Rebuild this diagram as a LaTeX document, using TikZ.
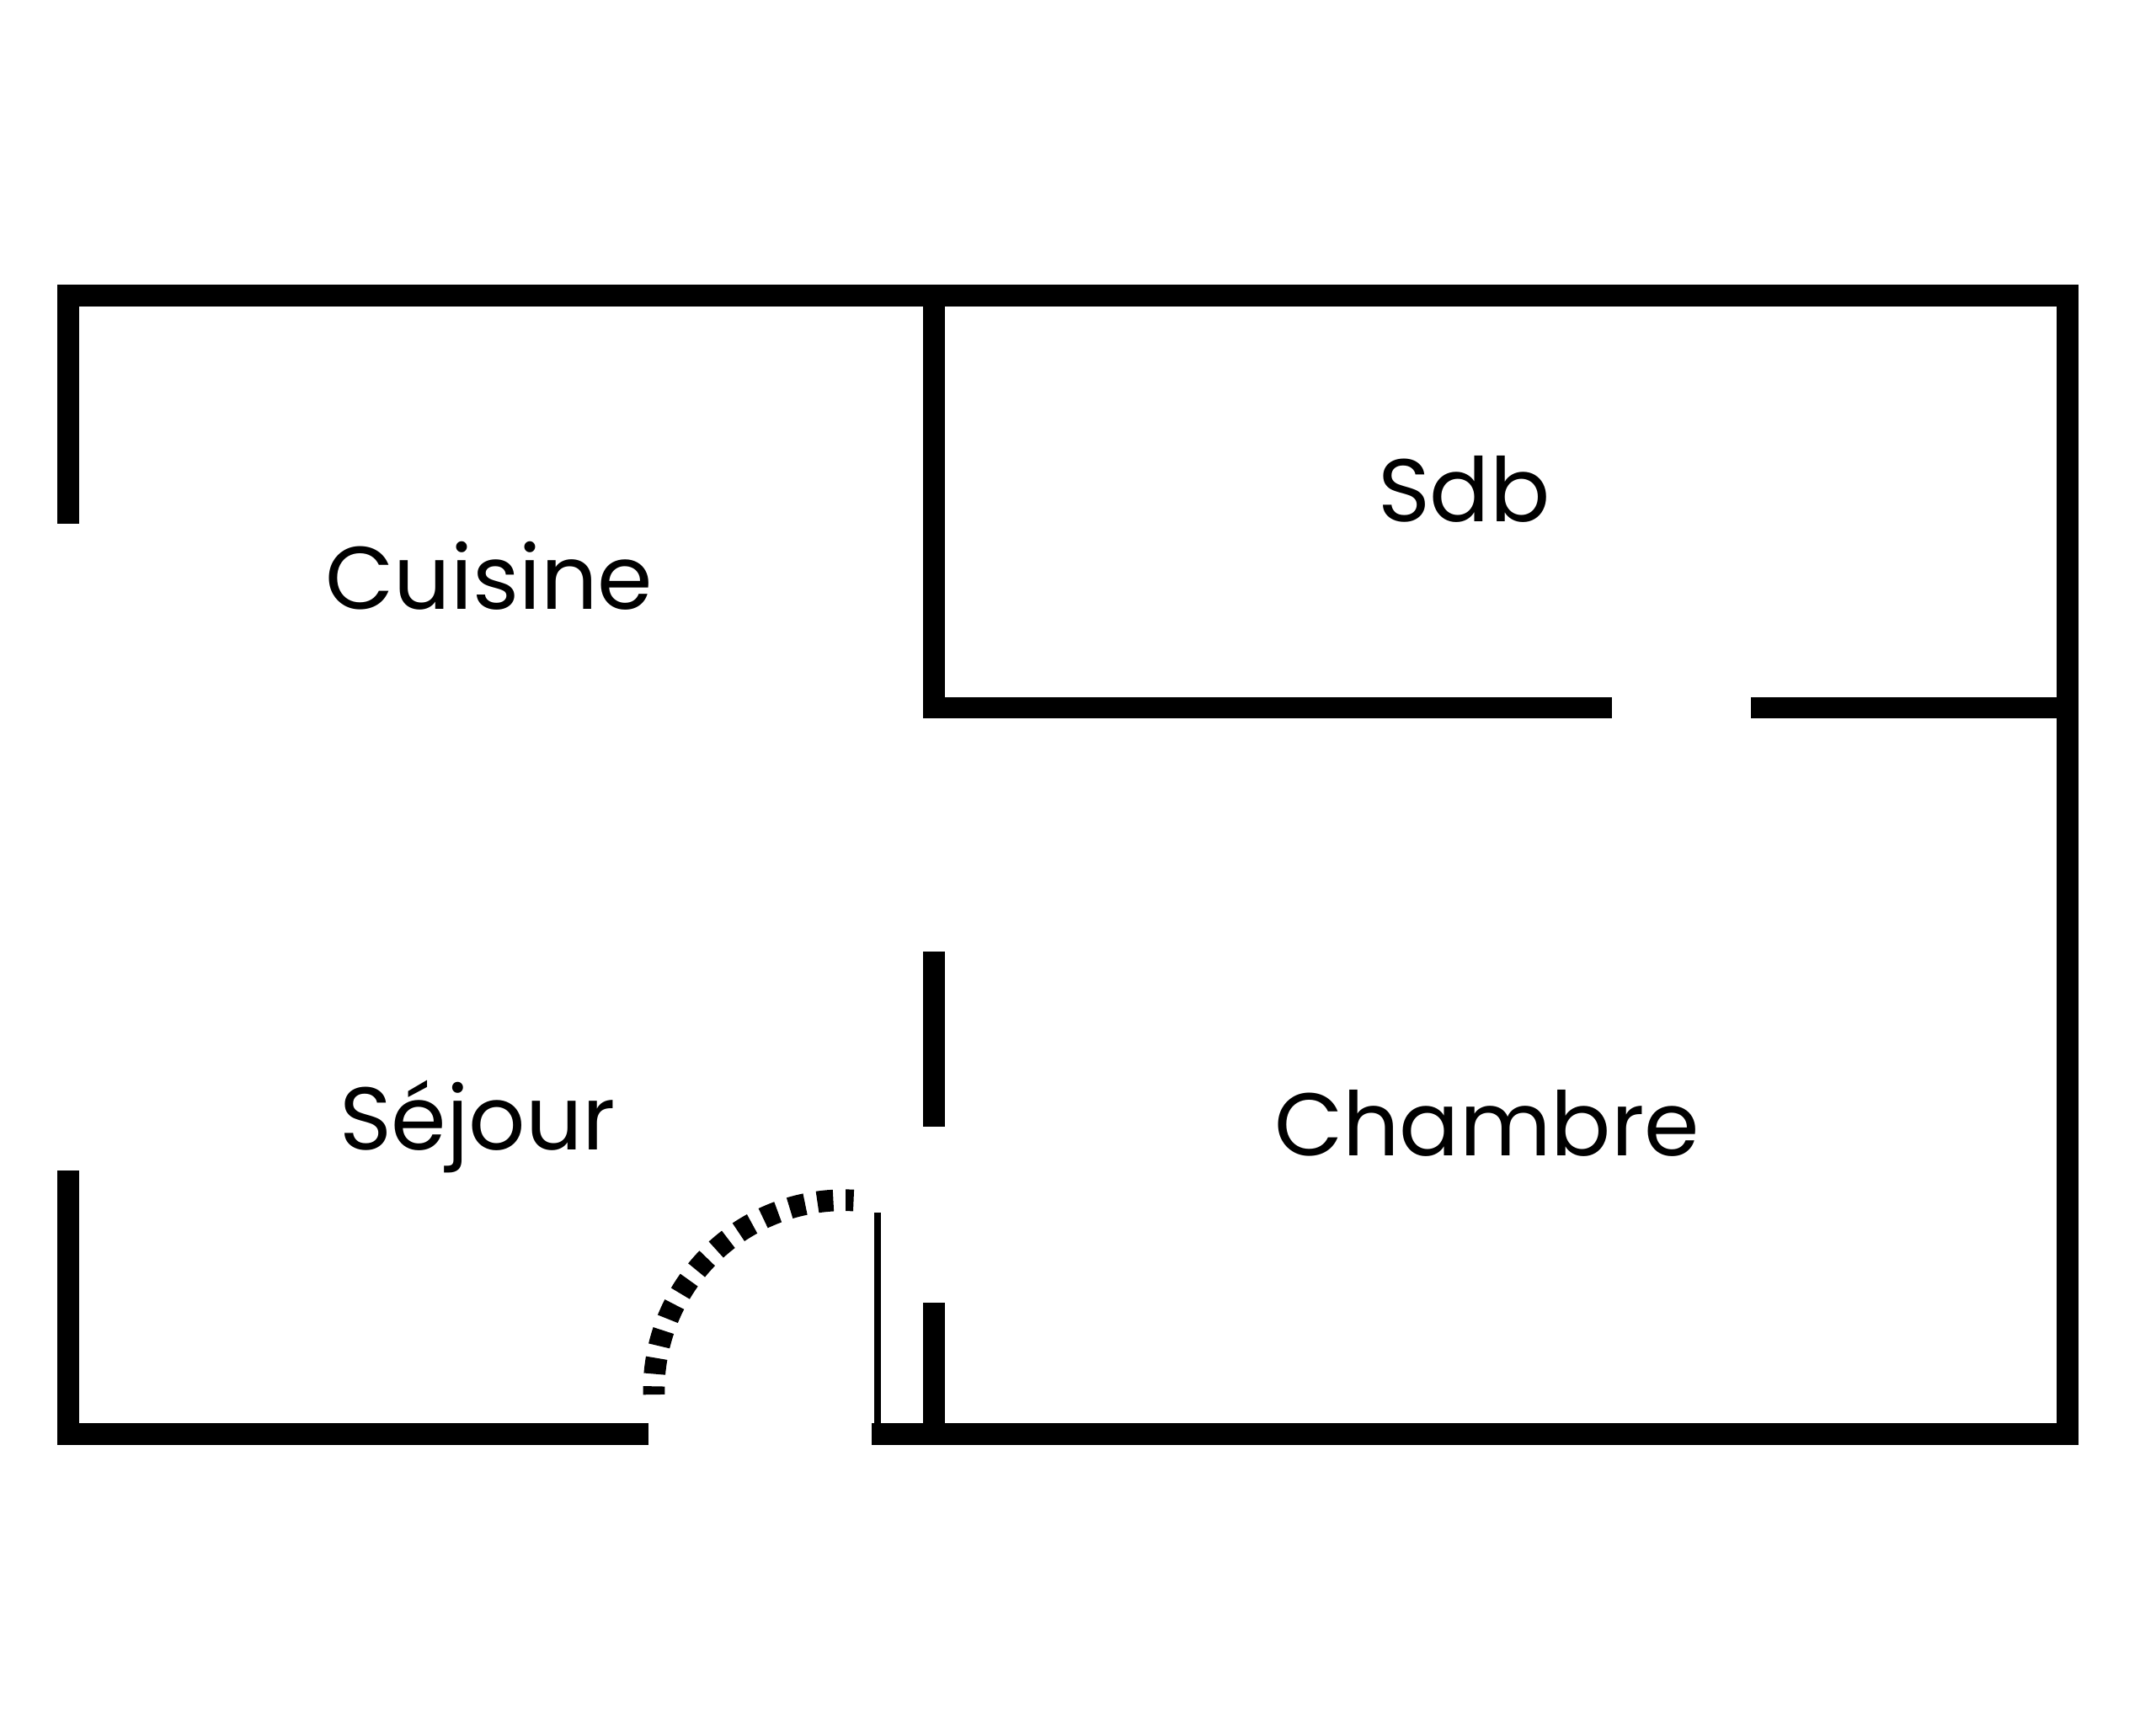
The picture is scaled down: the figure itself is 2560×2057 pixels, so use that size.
\documentclass[tikz,border=0pt]{standalone}
\usepackage{fontspec}
\setmainfont{Poppins}
\begin{document}
\begin{tikzpicture}[x=0.01cm,y=0.01cm,
  wall/.style={line width=0.257cm,line join=miter},
  leaf/.style={line width=0.087cm},
  swing/.style={line width=0.257cm,dash pattern=on 0.19cm off 0.147cm,dash phase=0.092cm},
  room/.style={anchor=base,font=\fontsize{30}{36}\selectfont}]
\useasboundingbox (0,0) rectangle (2560,2057);

% outer walls
\draw[wall] (80.7,1435.3) -- (80.7,1706) -- (2455,1706) -- (2455,353.7) -- (1034.7,353.7);
\draw[wall] (770,353.7) -- (80.7,353.7) -- (80.7,666.7);

% bathroom walls
\draw[wall] (1109,1706) -- (1109,1216.4) -- (1913.5,1216.4);
\draw[wall] (2078.8,1216.4) -- (2455,1216.4);

% partition
\draw[wall] (1109,927) -- (1109,719.3);
\draw[wall] (1109,509.7) -- (1109,353.7);

% entrance door
\draw[leaf] (1042,617) -- (1042,366.3);
\draw[swing] (1002,406) ++(181.3:225.6) arc[start angle=181.3,end angle=87.1,radius=2.256cm];

% rooms
\node[room] (cuisine) at (580.7,1333) {Cuisine};
\node[room] (sdb) at (1738.3,1437) {Sdb};
\node[room] (sejour) at (567,691) {Séjour};
\node[room] (chambre) at (1765.5,684) {Chambre};

\end{tikzpicture}
\end{document}
